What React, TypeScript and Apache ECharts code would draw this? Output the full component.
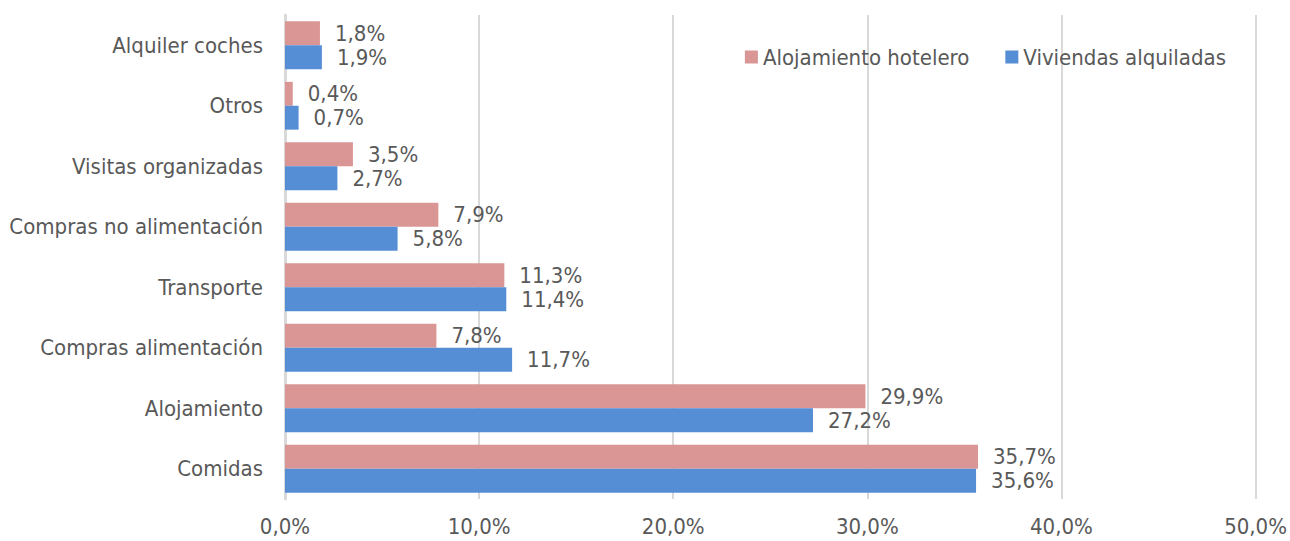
import React, { useEffect, useRef } from "react";
import * as echarts from "echarts";

const categories = [
  "Comidas",
  "Alojamiento",
  "Compras alimentación",
  "Transporte",
  "Compras no alimentación",
  "Visitas organizadas",
  "Otros",
  "Alquiler coches",
];
const hotelero = [35.7, 29.9, 7.8, 11.3, 7.9, 3.5, 0.4, 1.8];
const viviendas = [35.6, 27.2, 11.7, 11.4, 5.8, 2.7, 0.7, 1.9];
const seriesNames = ["Alojamiento hotelero", "Viviendas alquiladas"];
const xTicks = [0, 10, 20, 30, 40, 50];

const FONT = "'Liberation Sans Narrow', 'DejaVu Sans Condensed', sans-serif";
const TEXT = "#595959";
const fmt = (v: number) => v.toFixed(1).replace(".", ",") + "%";

export default function App() {
  const ref = useRef<HTMLDivElement>(null);
  useEffect(() => {
    if (!ref.current) return;
    const chart = echarts.init(ref.current, undefined, { renderer: "svg" });
    const label = {
      show: true,
      position: "right" as const,
      distance: 15,
      color: TEXT,
      fontFamily: FONT,
      fontSize: 22,
      formatter: (p: any) => fmt(p.value),
    };
    chart.setOption({
      animation: false,
      textStyle: { fontFamily: FONT },
      legend: {
        right: 59,
        top: 41,
        itemWidth: 13,
        itemHeight: 13,
        itemGap: 36,
        icon: "rect",
        textStyle: { color: TEXT, fontFamily: FONT, fontSize: 22 },
        data: seriesNames,
      },
      grid: { left: 285, right: 34, top: 15, bottom: 42, containLabel: false },
      xAxis: {
        type: "value",
        min: xTicks[0],
        max: xTicks[xTicks.length - 1],
        interval: 10,
        axisLine: { show: false },
        axisTick: { show: false },
        splitLine: { show: true, lineStyle: { color: "#D9D9D9", width: 2 } },
        axisLabel: {
          color: TEXT,
          fontFamily: FONT,
          fontSize: 22,
          margin: 16,
          formatter: (v: number) => fmt(v),
        },
      },
      yAxis: {
        type: "category",
        data: categories,
        axisLine: { show: true, lineStyle: { color: "#D9D9D9", width: 3 } },
        axisTick: { show: false },
        axisLabel: { color: TEXT, fontFamily: FONT, fontSize: 22, margin: 22 },
      },
      series: [
        {
          name: seriesNames[0],
          type: "bar",
          data: hotelero,
          barGap: "0%",
          barCategoryGap: "21%",
          itemStyle: { color: "#D99694" },
          label,
        },
        {
          name: seriesNames[1],
          type: "bar",
          data: viviendas,
          barGap: "0%",
          barCategoryGap: "21%",
          itemStyle: { color: "#558ED5" },
          label,
        },
      ],
    });
    return () => chart.dispose();
  }, []);
  return <div ref={ref} style={{ width: 1290, height: 541, position: "absolute", left: 0, top: 0 }} />;
}
